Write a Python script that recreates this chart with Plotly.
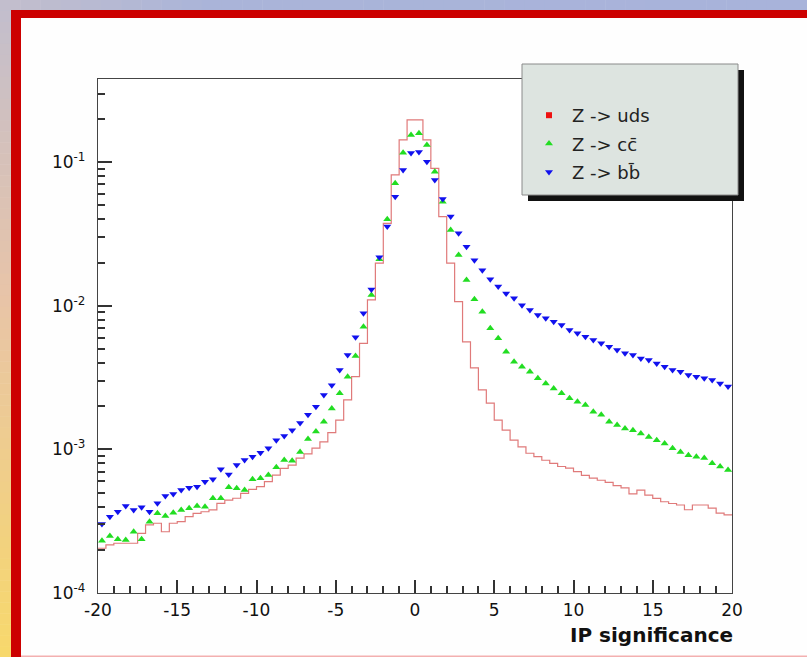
import numpy as np
import plotly.graph_objects as go

# ---- histogram content: 80 bins of width 0.5 on [-20, 20] ----
bin_edges = np.arange(-20.0, 20.0001, 0.5)
bin_centers = (bin_edges[:-1] + bin_edges[1:]) / 2

z_uds = [
    0.000205, 0.000216, 0.000222, 0.000222, 0.000222, 0.00026, 0.000298, 0.000306, 0.000267, 0.000306,
    0.000314, 0.00034, 0.000359, 0.000368, 0.000379, 0.000421, 0.000444, 0.000457, 0.000494, 0.000527,
    0.00055, 0.000596, 0.000663, 0.000738, 0.000778, 0.00087, 0.00093, 0.00102, 0.00113, 0.00131,
    0.0016, 0.00221, 0.00321, 0.00548, 0.011, 0.0198, 0.0375, 0.0815, 0.143, 0.197,
    0.197, 0.143, 0.0905, 0.0418, 0.0198, 0.0107, 0.0056, 0.0037, 0.0026, 0.0021,
    0.0016, 0.00136, 0.00116, 0.00104, 0.00094, 0.00089, 0.00084, 0.0008, 0.00076, 0.00074,
    0.0007, 0.00066, 0.00063, 0.00061, 0.00059, 0.00056, 0.00054, 0.00049, 0.00052, 0.00048,
    0.000456, 0.000432, 0.00042, 0.00041, 0.00038, 0.00041, 0.00041, 0.00039, 0.00036, 0.00035,
]

z_ccbar = [
    0.000231, 0.000249, 0.000237, 0.000234, 0.000267, 0.000237, 0.000314, 0.000359, 0.000344, 0.000362,
    0.000379, 0.000389, 0.000404, 0.000399, 0.000456, 0.000456, 0.000545, 0.000536, 0.000521, 0.00062,
    0.000629, 0.000663, 0.00075, 0.000843, 0.000834, 0.00096, 0.00118, 0.00133, 0.00156, 0.00193,
    0.00246, 0.00321, 0.00447, 0.00716, 0.0119, 0.0211, 0.040, 0.0713, 0.1164, 0.1545,
    0.159, 0.132, 0.0859, 0.0531, 0.0337, 0.0226, 0.0151, 0.0111, 0.0091, 0.00697,
    0.00594, 0.00478, 0.00408, 0.00377, 0.00348, 0.00313, 0.00288, 0.00266, 0.00246, 0.00227,
    0.00215, 0.00204, 0.00183, 0.00174, 0.00156, 0.00148, 0.0014, 0.00136, 0.00129, 0.00122,
    0.00116, 0.0011, 0.00102, 0.00096, 0.00091, 0.00089, 0.00087, 0.0008, 0.00076, 0.00072,
]

z_bbbar = [
    0.000302, 0.00034, 0.000368, 0.000404, 0.000379, 0.000395, 0.000368, 0.000421, 0.000473, 0.000489,
    0.000521, 0.000541, 0.00055, 0.000596, 0.00062, 0.000726, 0.00067, 0.000778, 0.000843, 0.00089,
    0.000948, 0.00102, 0.00116, 0.00124, 0.00136, 0.00153, 0.00174, 0.00198, 0.00239, 0.0028,
    0.00357, 0.00454, 0.00603, 0.00887, 0.013, 0.0218, 0.0356, 0.0575, 0.0883, 0.116,
    0.118, 0.1007, 0.0752, 0.0555, 0.0418, 0.032, 0.0258, 0.0208, 0.0177, 0.0153,
    0.0136, 0.0122, 0.0113, 0.0101, 0.00935, 0.00863, 0.00818, 0.00774, 0.00734, 0.00679,
    0.00643, 0.0061, 0.00578, 0.00548, 0.00519, 0.00492, 0.00467, 0.00454, 0.0043, 0.0042,
    0.00397, 0.00377, 0.00357, 0.00348, 0.0033, 0.00321, 0.00313, 0.00304, 0.00288, 0.00274,
]

x_tick_vals = [-20, -15, -10, -5, 0, 5, 10, 15, 20]
x_tick_text = ["-20", "-15", "-10", "-5", "0", "5", "10", "15", "20"]
x_minor_vals = [v for v in range(-20, 21) if v % 5 != 0]
y_tick_vals = [1e-4, 1e-3, 1e-2, 1e-1]
y_tick_text = ["10<sup>-4</sup>", "10<sup>-3</sup>", "10<sup>-2</sup>", "10<sup>-1</sup>"]
y_minor_vals = [m * 10.0 ** e for e in range(-4, 0) for m in range(2, 10)]

names = ["Z -> uds", "Z -> cc\u0304", "Z -> bb\u0304"]

X_RANGE = [-20, 20]
Y_RANGE = [-4, -0.4206]

# ---- page geometry (pixels) ----
W, H = 807, 657
PL, PR, PT, PB = 98, 732, 79, 593


def px(x):
    return (x - PL) / (PR - PL)


def py(y):
    return (PB - y) / (PB - PT)


def lerp_color(stops, t):
    for (t0, c0), (t1, c1) in zip(stops[:-1], stops[1:]):
        if t <= t1:
            f = 0 if t1 == t0 else (t - t0) / (t1 - t0)
            c = [round(a + (b - a) * f) for a, b in zip(c0, c1)]
            return "rgb(%d,%d,%d)" % tuple(c)
    return "rgb(%d,%d,%d)" % tuple(stops[-1][1])


shapes = []


def rect(x0, y0, x1, y1, color, layer="below", line=None):
    shapes.append(dict(
        type="rect", xref="paper", yref="paper",
        x0=px(x0), x1=px(x1), y0=py(y1), y1=py(y0),
        fillcolor=color, layer=layer,
        line=line if line else dict(width=0),
    ))


# slide background: top strip and left strip with soft gradients
top_stops = [(0.0, (194, 190, 205)), (0.25, (170, 180, 217)), (1.0, (168, 179, 218))]
n = 40
for i in range(n):
    x0, x1 = W * i / n, W * (i + 1) / n + 0.5
    rect(x0, 0, x1, 11, lerp_color(top_stops, i / (n - 1)))
left_stops = [(0.0, (194, 190, 205)), (0.45, (232, 196, 168)), (1.0, (247, 216, 108))]
n = 60
for i in range(n):
    y0, y1 = H * i / n, H * (i + 1) / n + 0.5
    rect(0, max(y0, 10), 11, y1, lerp_color(left_stops, i / (n - 1)))

# red slide frame
rect(11, 10, W, 18, "#cc0000")
rect(11, 10, 21, H, "#cc0000")
rect(21, 655.5, W, H, "#f3b0b0")

# legend box with drop shadow
rect(528, 70, 744, 201, "#111111", layer="above")
rect(522, 64, 738, 195, "#dde4e0", layer="above", line=dict(color="#8a8a8a", width=1))

fig = go.Figure()

fig.add_trace(go.Scatter(
    x=bin_edges, y=np.append(z_uds, z_uds[-1]),
    mode="lines", line=dict(shape="hv", color="#e07a7a", width=1.2),
    showlegend=False, hoverinfo="skip",
))
fig.add_trace(go.Scatter(
    x=[None], y=[None], mode="markers", name=names[0], legendgroup="a",
    marker=dict(symbol="square", color="#ee1111", size=6),
))
fig.add_trace(go.Scatter(
    x=bin_centers, y=z_ccbar, mode="markers", name=names[1], legendgroup="b",
    marker=dict(symbol="triangle-up", color="#22dd22", size=7),
))
# b-bbar series sits on the overlay axes that carry the minor ticks (same ranges)
fig.add_trace(go.Scatter(
    x=bin_centers, y=z_bbbar, mode="markers", name=names[2], legendgroup="c",
    marker=dict(symbol="triangle-down", color="#1111ee", size=7),
    xaxis="x2", yaxis="y2",
))

axis_col = "#444444"
tick_col = "#333333"
tick_font = dict(family="DejaVu Sans", size=17, color="#111111")

fig.update_layout(
    width=W, height=H,
    margin=dict(l=PL, r=W - PR, t=PT, b=H - PB, pad=0),
    paper_bgcolor="#fefefe", plot_bgcolor="#ffffff",
    shapes=shapes,
    showlegend=True,
    legend=dict(
        x=px(526), y=py(97), xanchor="left", yanchor="top",
        bgcolor="rgba(0,0,0,0)", borderwidth=0,
        font=dict(family="DejaVu Sans", size=18, color="#222222"),
        traceorder="grouped", tracegroupgap=2, itemwidth=36,
    ),
    xaxis=dict(
        range=X_RANGE, tickmode="array", tickvals=x_tick_vals, ticktext=x_tick_text,
        ticks="inside", ticklen=13, tickwidth=1.5, tickcolor=tick_col,
        showline=True, linecolor=axis_col, linewidth=1.3, mirror=True,
        showgrid=False, zeroline=False, tickfont=tick_font, ticklabelstandoff=1,
    ),
    yaxis=dict(
        type="log", range=Y_RANGE, tickmode="array",
        tickvals=y_tick_vals, ticktext=y_tick_text,
        ticks="inside", ticklen=14, tickwidth=1.5, tickcolor=tick_col,
        showline=True, linecolor=axis_col, linewidth=1.3, mirror=True,
        showgrid=False, zeroline=False, tickfont=tick_font, ticklabelstandoff=8,
    ),
    xaxis2=dict(
        overlaying="x", anchor="y2", side="bottom", range=X_RANGE,
        tickmode="array", tickvals=x_minor_vals, showticklabels=False,
        ticks="inside", ticklen=7, tickwidth=1.5, tickcolor=tick_col,
        showline=False, showgrid=False, zeroline=False,
    ),
    yaxis2=dict(
        overlaying="y", anchor="x2", side="left", type="log", range=Y_RANGE,
        tickmode="array", tickvals=y_minor_vals, showticklabels=False,
        ticks="inside", ticklen=7, tickwidth=1.5, tickcolor=tick_col,
        showline=False, showgrid=False, zeroline=False,
    ),
    annotations=[dict(
        text="IP significance", xref="paper", yref="paper",
        x=px(735), y=py(621), xanchor="right", yanchor="top", showarrow=False,
        font=dict(family="DejaVu Sans", size=20, color="#111111", weight="bold"),
    )],
)

fig.write_html("out.html")
